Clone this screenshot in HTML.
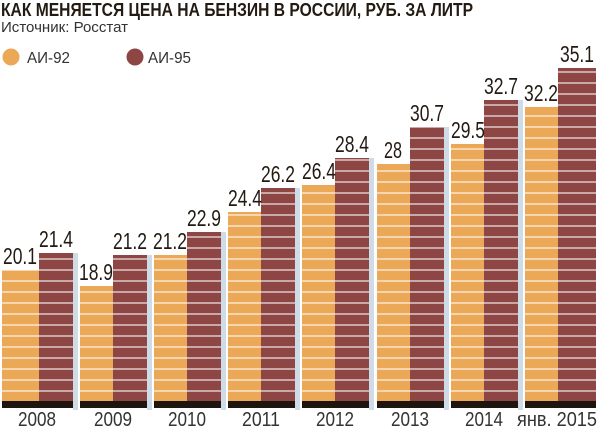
<!DOCTYPE html>
<html><head><meta charset="utf-8"><style>
html,body{margin:0;padding:0;background:#fff}
svg{display:block}
text{font-family:"Liberation Sans","DejaVu Sans",sans-serif}
</style></head><body>
<svg width="600" height="428" viewBox="0 0 600 428" xmlns="http://www.w3.org/2000/svg">
<text x="1" y="16" font-size="18" font-weight="bold" fill="#231a12" textLength="472" lengthAdjust="spacingAndGlyphs">КАК МЕНЯЕТСЯ ЦЕНА НА БЕНЗИН В РОССИИ, РУБ. ЗА ЛИТР</text>
<text x="1" y="32" font-size="15" fill="#333" textLength="127" lengthAdjust="spacingAndGlyphs">Источник: Росстат</text>
<circle cx="11" cy="57" r="8.5" fill="#eba957"/>
<text x="27" y="63" font-size="16" fill="#333" textLength="43" lengthAdjust="spacingAndGlyphs">АИ-92</text>
<circle cx="135" cy="57" r="8.5" fill="#8e4644"/>
<text x="148" y="63" font-size="16" fill="#333" textLength="43" lengthAdjust="spacingAndGlyphs">АИ-95</text>
<g fill="#eba957">
<rect x="2" y="270" width="37" height="131"/>
<rect x="80" y="286" width="33" height="115"/>
<rect x="154" y="255" width="33" height="146"/>
<rect x="228" y="212" width="33" height="189"/>
<rect x="302" y="185" width="33" height="216"/>
<rect x="377" y="164" width="33" height="237"/>
<rect x="451" y="144" width="33" height="257"/>
<rect x="525" y="107" width="33" height="294"/>
</g>
<g fill="#8e4644">
<rect x="39" y="253" width="34" height="148"/>
<rect x="113" y="255" width="34" height="146"/>
<rect x="187" y="232" width="34" height="169"/>
<rect x="261" y="188" width="34" height="213"/>
<rect x="335" y="158" width="34" height="243"/>
<rect x="410" y="127" width="34" height="274"/>
<rect x="484" y="100" width="34" height="301"/>
<rect x="558" y="68" width="38" height="333"/>
</g>
<g stroke="#fff" stroke-width="1.3" stroke-opacity="0.85">
<line x1="0" x2="600" y1="72" y2="72"/><line x1="0" x2="600" y1="83" y2="83"/><line x1="0" x2="600" y1="94" y2="94"/><line x1="0" x2="600" y1="105" y2="105"/><line x1="0" x2="600" y1="116" y2="116"/><line x1="0" x2="600" y1="127" y2="127"/><line x1="0" x2="600" y1="138" y2="138"/><line x1="0" x2="600" y1="149" y2="149"/><line x1="0" x2="600" y1="160" y2="160"/><line x1="0" x2="600" y1="171" y2="171"/><line x1="0" x2="600" y1="182" y2="182"/><line x1="0" x2="600" y1="193" y2="193"/><line x1="0" x2="600" y1="204" y2="204"/><line x1="0" x2="600" y1="215" y2="215"/><line x1="0" x2="600" y1="226" y2="226"/><line x1="0" x2="600" y1="237" y2="237"/><line x1="0" x2="600" y1="248" y2="248"/><line x1="0" x2="600" y1="259" y2="259"/><line x1="0" x2="600" y1="270" y2="270"/><line x1="0" x2="600" y1="281" y2="281"/><line x1="0" x2="600" y1="292" y2="292"/><line x1="0" x2="600" y1="303" y2="303"/><line x1="0" x2="600" y1="314" y2="314"/><line x1="0" x2="600" y1="325" y2="325"/><line x1="0" x2="600" y1="336" y2="336"/><line x1="0" x2="600" y1="347" y2="347"/><line x1="0" x2="600" y1="358" y2="358"/><line x1="0" x2="600" y1="369" y2="369"/><line x1="0" x2="600" y1="380" y2="380"/><line x1="0" x2="600" y1="391" y2="391"/>
</g>
<g fill="#cfdbe6">
<rect x="73" y="253" width="5" height="157"/>
<rect x="147" y="255" width="5" height="155"/>
<rect x="221" y="232" width="5" height="178"/>
<rect x="295" y="188" width="5" height="222"/>
<rect x="369" y="158" width="5" height="252"/>
<rect x="444" y="127" width="5" height="283"/>
<rect x="518" y="100" width="5" height="310"/>
</g>
<g fill="#1e160e">
<rect x="2" y="401" width="71" height="7"/>
<rect x="80" y="401" width="67" height="7"/>
<rect x="154" y="401" width="67" height="7"/>
<rect x="228" y="401" width="67" height="7"/>
<rect x="302" y="401" width="67" height="7"/>
<rect x="377" y="401" width="67" height="7"/>
<rect x="451" y="401" width="67" height="7"/>
<rect x="525" y="401" width="71" height="7"/>
</g>
<g font-size="23" fill="#231a12" text-anchor="middle">
<text x="20" y="264" textLength="34" lengthAdjust="spacingAndGlyphs">20.1</text>
<text x="56" y="247" textLength="34" lengthAdjust="spacingAndGlyphs">21.4</text>
<text x="96" y="280" textLength="34" lengthAdjust="spacingAndGlyphs">18.9</text>
<text x="130" y="249" textLength="34" lengthAdjust="spacingAndGlyphs">21.2</text>
<text x="170" y="249" textLength="34" lengthAdjust="spacingAndGlyphs">21.2</text>
<text x="204" y="226" textLength="34" lengthAdjust="spacingAndGlyphs">22.9</text>
<text x="245" y="206" textLength="34" lengthAdjust="spacingAndGlyphs">24.4</text>
<text x="278" y="182" textLength="34" lengthAdjust="spacingAndGlyphs">26.2</text>
<text x="319" y="179" textLength="34" lengthAdjust="spacingAndGlyphs">26.4</text>
<text x="352" y="152" textLength="34" lengthAdjust="spacingAndGlyphs">28.4</text>
<text x="393" y="158" textLength="18" lengthAdjust="spacingAndGlyphs">28</text>
<text x="427" y="121" textLength="34" lengthAdjust="spacingAndGlyphs">30.7</text>
<text x="468" y="138" textLength="34" lengthAdjust="spacingAndGlyphs">29.5</text>
<text x="501" y="94" textLength="34" lengthAdjust="spacingAndGlyphs">32.7</text>
<text x="541" y="101" textLength="34" lengthAdjust="spacingAndGlyphs">32.2</text>
<text x="577" y="62" textLength="34" lengthAdjust="spacingAndGlyphs">35.1</text>
</g>
<g font-size="20" fill="#333" text-anchor="middle">
<text x="37" y="426" textLength="38" lengthAdjust="spacingAndGlyphs">2008</text>
<text x="113" y="426" textLength="38" lengthAdjust="spacingAndGlyphs">2009</text>
<text x="187" y="426" textLength="38" lengthAdjust="spacingAndGlyphs">2010</text>
<text x="261" y="426" textLength="38" lengthAdjust="spacingAndGlyphs">2011</text>
<text x="335" y="426" textLength="38" lengthAdjust="spacingAndGlyphs">2012</text>
<text x="410" y="426" textLength="38" lengthAdjust="spacingAndGlyphs">2013</text>
<text x="484" y="426" textLength="38" lengthAdjust="spacingAndGlyphs">2014</text>
<text x="557" y="426" textLength="80" lengthAdjust="spacingAndGlyphs">янв. 2015</text>
</g>
</svg>
</body></html>
